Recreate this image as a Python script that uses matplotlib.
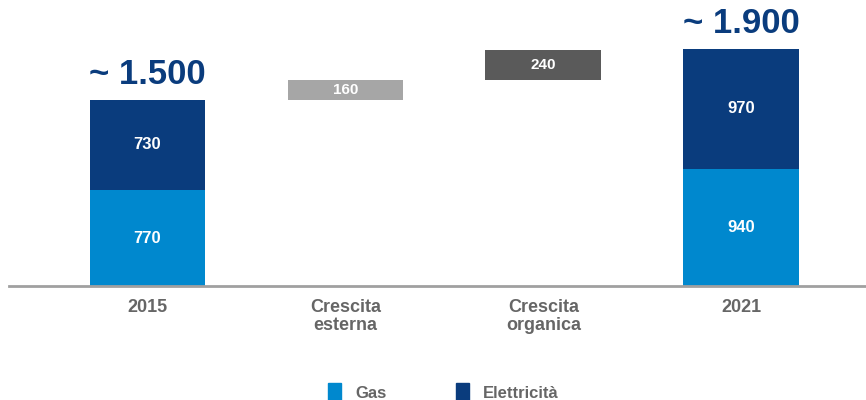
import matplotlib
matplotlib.use("Agg")
import matplotlib.pyplot as plt
from matplotlib.patches import Patch

categories = ["2015", "Crescita\nesterna", "Crescita\norganica", "2021"]
gas = [770, None, None, 940]
elettricita = [730, None, None, 970]
growth = [None, 160, 240, None]
totals_labels = ["~ 1.500", None, None, "~ 1.900"]

c_gas = "#0088CE"
c_ele = "#0A3C7D"
c_growth = [None, "#A6A6A6", "#5A5A5A", None]
font = "Liberation Sans"

fig = plt.figure(figsize=(8.66, 4.0), dpi=100)
ax = fig.add_axes([0.0104, 0.285, 0.9896, 0.715])
x = list(range(len(categories)))
w = 0.585

running = 0
for i in x:
    if gas[i] is not None:
        ax.bar(i, gas[i], width=w, color=c_gas, zorder=2)
        ax.bar(i, elettricita[i], bottom=gas[i], width=w, color=c_ele, zorder=2)
        ax.text(i, gas[i] / 2, str(gas[i]), ha="center", va="center", color="white",
                fontsize=12, fontweight="bold", family=font)
        ax.text(i, gas[i] + elettricita[i] / 2, str(elettricita[i]), ha="center", va="center",
                color="white", fontsize=12, fontweight="bold", family=font)
        tot = gas[i] + elettricita[i]
        ax.text(i, tot + 70, totals_labels[i], ha="center", va="bottom", color=c_ele,
                fontsize=25, fontweight="bold", family=font)
        running = tot
    else:
        ax.bar(i, growth[i], bottom=running, width=w, color=c_growth[i], zorder=2)
        ax.text(i, running + growth[i] / 2, str(growth[i]), ha="center", va="center",
                color="white", fontsize=11, fontweight="bold", family=font)
        running += growth[i]

ax.set_xlim(-0.70, 3.63)
ax.set_ylim(0, 2302)
for s in ["top", "left", "right"]:
    ax.spines[s].set_visible(False)
ax.spines["bottom"].set_color("#A0A0A0")
ax.spines["bottom"].set_linewidth(2)
ax.set_yticks([])
ax.set_xticks(x)
ax.set_xticklabels(categories, fontsize=13, fontweight="bold", color="#666666",
                   family=font, linespacing=1.1)
ax.tick_params(axis="x", length=0, pad=9)

handles = [Patch(color=c_gas, label="Gas"), Patch(color=c_ele, label="Elettricità")]
fig.legend(handles=handles, loc="center", bbox_to_anchor=(0.512, 0.02), ncol=2,
           frameon=False, handlelength=0.75, handleheight=1.3, columnspacing=4.2,
           prop={"family": font, "weight": "bold", "size": 12},
           labelcolor="#666666", handletextpad=0.85)

fig.savefig("out.png", dpi=100)
